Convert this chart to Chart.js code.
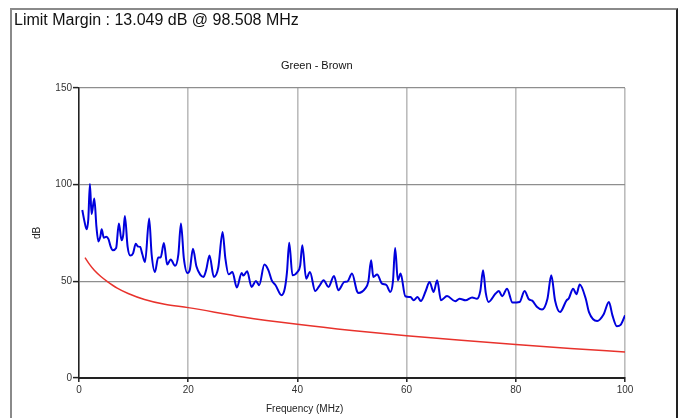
<!DOCTYPE html>
<html>
<head>
<meta charset="utf-8">
<script src="https://cdn.jsdelivr.net/npm/chart.js@4/dist/chart.umd.min.js"></script>
<style>
  html, body { margin: 0; padding: 0; background: #fff; }
  body { width: 685px; height: 418px; position: relative; overflow: hidden; font-family: "Liberation Sans", Arial, sans-serif; }
  #frame { position: absolute; left: 10px; top: 8px; width: 664px; height: 430px;
           border-left: 2px solid #8a8a8a; border-top: 2px solid #8a8a8a; border-right: 2px solid #222; }
  #plot { position: absolute; left: 0; top: 0; }
  .txt { position: absolute; color: #111; white-space: nowrap; }
  #main-title { left: 14px; top: 11px; font-size: 16px; }
  #sub-title { left: 281px; top: 59px; font-size: 11px; }
  #x-title { left: 266px; top: 403px; font-size: 10px; color: #222; }
</style>
</head>
<body>
<canvas id="plot" width="685" height="418"></canvas>
<div id="frame"></div>
<div class="txt" id="main-title">Limit Margin : 13.049 dB @ 98.508 MHz</div>
<div class="txt" id="sub-title">Green - Brown</div>
<div class="txt" id="x-title">Frequency (MHz)</div>
<script>
const freqMHz = [
  0.6, 1.0, 1.4, 1.7, 2.0, 2.3, 2.8, 3.2, 3.55, 3.9, 4.15, 4.55, 5.0, 5.4, 5.8, 6.2, 6.8, 7.3, 7.8, 8.1,
  8.4, 8.9, 9.4, 9.9, 10.4, 10.8, 11.2, 11.6, 12.1, 12.85, 13.3, 13.9, 14.5, 14.95, 15.55, 16.15, 16.8, 17.6, 18.2, 18.67,
  19.2, 19.85, 20.3, 20.87, 21.5, 22.2, 22.8, 23.3, 23.9, 24.7, 25.5, 26.3, 26.8, 27.4, 28.1, 28.9, 29.8, 30.1, 30.8, 31.6,
  32.4, 33.0, 33.95, 34.7, 35.3, 36.0, 37.1, 37.7, 38.1, 38.5, 39.1, 40.0, 40.5, 40.9, 41.6, 42.3, 43.25, 44.0, 44.8, 45.7,
  46.7, 47.5, 48.6, 49.2, 50.0, 50.9, 51.2, 52.4, 53.0, 53.5, 53.9, 54.6, 55.5, 56.3, 57.0, 57.5, 57.9, 58.4, 58.9, 59.76,
  60.7, 61.3, 62.0, 62.6, 63.5, 64.2, 64.95, 65.6, 66.3, 67.4, 68.9, 69.7, 70.8, 72.0, 72.9, 73.5, 74.0, 74.5, 75.0, 76.3,
  76.9, 77.5, 78.4, 79.4, 80.7, 81.6, 82.4, 83.0, 83.9, 84.8, 85.8, 86.5, 87.2, 88.1, 89.3, 89.7, 90.5, 91.1, 91.7, 92.8,
  93.4, 94.9, 96.1, 97.05, 97.7, 98.5, 99.2, 100
];
const levelDb = [
  86.9, 81, 76.9, 82, 100.4, 84.8, 92.8, 78, 70.6, 73, 76.9, 72.5, 73.1, 71.8, 68, 66.1, 67.2, 79.9, 71.2, 74,
  83.8, 68, 63.3, 64.5, 69.5, 68, 67.8, 64, 60, 82.5, 64, 54.8, 62.3, 62.3, 69.8, 58.7, 61.3, 58, 64, 79.9,
  62, 54.3, 56, 66.9, 57.8, 53.5, 52.3, 56, 63.3, 52.3, 57, 75.5, 62, 53.6, 54.8, 46.8, 54.3, 53, 55.2, 47.1,
  50.2, 48, 58.7, 55.7, 50.5, 48, 42.8, 46.4, 55, 70, 53.1, 54.8, 58, 68.6, 51.4, 54.8, 45, 47.5, 50.5, 47.1,
  52.8, 45.4, 49.7, 50, 54, 45, 44, 46.2, 50, 60.9, 52.3, 53.5, 48.8, 48.1, 44.5, 50, 67.3, 50.5, 54, 42.3,
  41.9, 40.2, 41.9, 39.8, 45, 49.7, 44.5, 50.5, 40.2, 42.4, 39.7, 41, 40.2, 41.6, 41, 45, 55.7, 44, 39.3, 43.7,
  45, 42.3, 46.2, 39, 39.3, 45, 40.7, 40, 36.7, 35.4, 41, 53.1, 40, 34.1, 40.2, 41.1, 46.2, 43.3, 48.3, 41.1,
  34.1, 29.5, 33, 39.3, 32.4, 26.8, 27.5, 32.4
];
// limit line
const limitFreqMHz = [1.1, 2.0, 2.8, 4.0, 5.2, 7.0, 9.0, 12.0, 15.7, 20, 30, 40, 50, 60, 70, 80, 90, 100];
const limitDb      = [62.3, 58.5, 55.7, 52.5, 49.9, 46.5, 43.7, 40.6, 38.1, 36.4, 31.6, 27.8, 24.6, 21.9, 19.5, 17.3, 15.3, 13.5];

const xTicks = [0, 20, 40, 60, 80, 100];
const yTicks = [0, 50, 100, 150];

const pts = (xs, ys) => xs.map((x, i) => ({ x, y: ys[i] }));
const tickFont = { family: '"Liberation Sans", Arial, sans-serif', size: 10 };

new Chart(document.getElementById('plot'), {
  type: 'line',
  data: {
    datasets: [
      { label: 'Green - Brown', data: pts(freqMHz, levelDb), borderColor: '#0000dd', borderWidth: 2,
        pointRadius: 0, cubicInterpolationMode: 'monotone' },
      { label: 'Limit', data: pts(limitFreqMHz, limitDb), borderColor: '#e8322c', borderWidth: 1.5,
        pointRadius: 0, cubicInterpolationMode: 'monotone' },
    ],
  },
  options: {
    responsive: false, animation: false,
    layout: { padding: { left: 0, top: 88, right: 60, bottom: 0 } },
    plugins: { legend: { display: false }, tooltip: { enabled: false } },
    scales: {
      x: {
        type: 'linear', min: 0, max: 100,
        afterFit: (s) => { s.height = 40; },
        afterBuildTicks: (s) => { s.ticks = xTicks.map((v) => ({ value: v })); },
        ticks: { color: '#333', font: tickFont, padding: 2, maxRotation: 0 },
        grid: { color: '#bcbcbc', lineWidth: 1.6, tickLength: 4, tickColor: '#222', tickWidth: 1.5 },
        border: { color: '#222', width: 2 },
      },
      y: {
        min: 0, max: 150,
        afterFit: (s) => { s.width = 79; },
        afterBuildTicks: (s) => { s.ticks = yTicks.map((v) => ({ value: v })); },
        ticks: { color: '#333', font: tickFont, padding: 1 },
        grid: { color: '#8e8e8e', lineWidth: 1.2, tickLength: 6, tickColor: '#222', tickWidth: 1.5 },
        border: { color: '#222', width: 1.5 },
        title: { display: true, text: 'dB', color: '#222', font: tickFont, padding: { top: 31, bottom: 0 } },
      },
    },
  },
});
</script>
</body>
</html>
